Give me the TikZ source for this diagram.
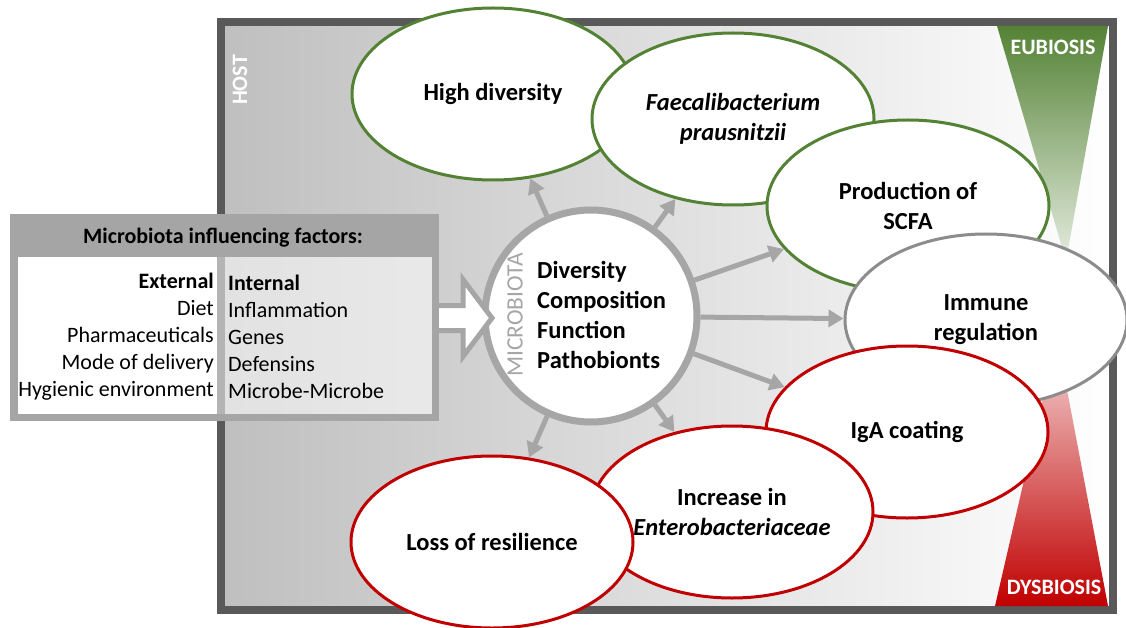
\documentclass[tikz,border=0pt]{standalone}
\usepackage{fontspec}
\setmainfont{Carlito}
\usetikzlibrary{arrows.meta,shapes.geometric,calc}
\definecolor{hostframe}{HTML}{595959}
\definecolor{hostgrey}{HTML}{BFBFBF}
\definecolor{mbgrey}{HTML}{A6A6A6}
\definecolor{boxgrey}{HTML}{A5A5A5}
\definecolor{eugreen}{HTML}{548235}
\definecolor{dysred}{HTML}{C00000}
\definecolor{immgrey}{HTML}{8C8C8C}
\tikzset{
  bubble/.style={ellipse, fill=white, line width=3pt, minimum width=282pt,
    minimum height=172pt, inner sep=0pt, align=center,
    font=\bfseries\fontsize{24.5}{30}\selectfont},
  flow/.style={draw=mbgrey, line width=5pt, -{Triangle[length=15pt,width=17pt]}},
  tag/.style={text=white, font=\bfseries\fontsize{22}{22}\selectfont},
}

\begin{document}
\begin{tikzpicture}[x=1pt,y=-1pt]
  \useasboundingbox (0,0) rectangle (1126,628);
  % host frame
  \draw[hostframe, line width=8pt, left color=hostgrey, right color=white]
    (221,22) rectangle (1113,610);
  \shade[top color=eugreen, middle color=eugreen!55, bottom color=eugreen!15]
    (997,26) -- (1108,26) -- (1066,261) -- cycle;
  \shade[top color=dysred!15, middle color=dysred!60, bottom color=dysred]
    (1057,337) -- (1108,606) -- (995,606) -- cycle;
  \node[tag, rotate=90] (host) at (240,80) {HOST};
  \node[tag] (eubiosis) at (1053,47) {EUBIOSIS};
  \node[tag] (dysbiosis) at (1054,587) {DYSBIOSIS};

  % outcomes, later ones on top
  \foreach \name/\x/\y/\col/\what in {%
      hd/493/94/eugreen/{High diversity},
      fp/733/119/eugreen/{\textit{Faecalibacterium}\\\textit{prausnitzii}},
      scfa/908/206/eugreen/{Production of\\SCFA},
      imm/986/320/immgrey/{Immune\\regulation},
      iga/907/432/dysred/{IgA coating},
      ent/732/512/dysred/{Increase in\\\textit{Enterobacteriaceae}},
      loss/492/542/dysred/{Loss of resilience}}
  {
    \node[bubble, draw=\col] (\name) at (\x,\y) {\what};
  }

  % microbiota
  \node[circle, draw=mbgrey, fill=white, line width=7pt, minimum size=212pt] (mb) at (591,316) {};
  \node[rotate=90, text=mbgrey, font=\fontsize{23.5}{23.5}\selectfont] (mblabel) at (515,315) {MICROBIOTA};
  \node[anchor=west, align=left, inner sep=0pt, font=\bfseries\fontsize{24.5}{30}\selectfont]
    (mbtext) at (537,315) {Diversity\\Composition\\Function\\Pathobionts};

  \foreach \t in {hd,fp,scfa,imm,iga,ent,loss}
    \draw[flow] (mb) -- (\t);

  % influencing factors
  \draw[mbgrey, fill=white, line width=5pt, line join=miter]
    (436,305.5) -- (463,305.5) -- (463,279.5) -- (492,318) -- (463,356.5)
    -- (463,330.5) -- (436,330.5) -- cycle;
  \fill[boxgrey] (10,214) rectangle (439,257);
  \draw[boxgrey, line width=7.5pt] (13.75,217.75) rectangle (435.25,417.25);
  \fill[white, fill opacity=0.55] (17.5,257) rectangle (431.5,413.5);
  \node[font=\bfseries\fontsize{22}{22}\selectfont] (factors) at (223,238)
    {Microbiota influencing factors:};
  \node[anchor=east, align=right, inner sep=0pt, font=\fontsize{22}{27}\selectfont]
    (external) at (214,337) {\textbf{External}\\Diet\\Pharmaceuticals\\Mode of delivery\\Hygienic environment};
  \node[anchor=west, align=left, inner sep=0pt, font=\fontsize{22}{27}\selectfont]
    (internal) at (228,337) {\textbf{Internal}\\Inflammation\\Genes\\Defensins\\Microbe-Microbe};
\end{tikzpicture}
\end{document}
